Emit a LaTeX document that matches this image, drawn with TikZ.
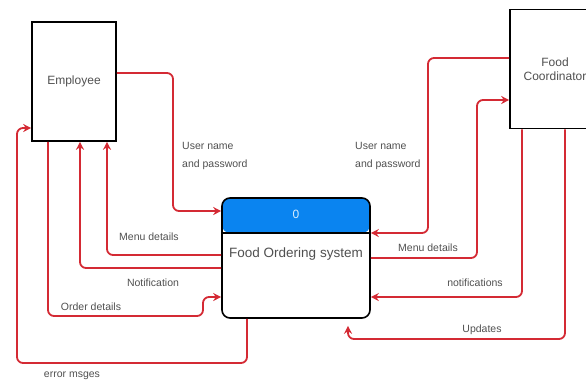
\documentclass[tikz,border=0pt]{standalone}
\usepackage{fontspec}
\setmainfont{Liberation Sans}
\usepackage{tikz}
\usetikzlibrary{
  arrows.meta,
  positioning,
  calc
}
\definecolor{dfdRed}{HTML}{D42A34}
\definecolor{dfdBlue}{HTML}{0A84F0}
\definecolor{dfdText}{HTML}{505050}
\tikzset{
  entity/.style={
    draw, line width=1.6pt, minimum width=84pt, minimum height=119pt,
    font=\fontsize{12}{14}\selectfont, text=dfdText, align=center, inner sep=0pt
  },
  procbox/.style={
    draw, line width=1.6pt, rounded corners=8pt, minimum width=148pt, minimum height=120pt,
    fill=white,
    path picture={
      \fill[dfdBlue] (path picture bounding box.north west) rectangle
        ([yshift=-35pt]path picture bounding box.north east);
      \draw[line width=1.6pt] ([yshift=-35pt]path picture bounding box.north west) --
        ([yshift=-35pt]path picture bounding box.north east);
    }
  },
  procid/.style={font=\fontsize{12}{14}\selectfont, text=white!85!dfdBlue},
  proctext/.style={font=\fontsize{13.5}{16}\selectfont, text=dfdText},
  flow/.style={-{Stealth[length=8pt,width=8pt]}, line width=1.8pt, dfdRed, rounded corners=6pt},
  tag/.style={font=\fontsize{10.5}{18}\selectfont, text=dfdText, align=left, inner sep=1pt}
}
\begin{document}
\begin{tikzpicture}[x=1pt,y=-1pt]
  \useasboundingbox (0,0) rectangle (586,381);
  % entities and process
  \node[entity] (emp) at (74,81.5) {Employee};
  \node[entity, minimum width=90pt] (coord) at (555,69) {Food\\Coordinator};
  \node[procbox] (proc) at (296,258) {};
  \node[procid] (pid) at ([yshift=-17.5pt]proc.north) {0};
  \node[proctext] (pname) at ([yshift=-57pt]proc.north) {Food Ordering system};
  % employee side
  \draw[flow] ([yshift=8.5pt]emp.east) -| (173,211) -- ([yshift=47pt]proc.west);
  \draw[flow] ([yshift=3pt]proc.west) -| ([xshift=33pt]emp.south);
  \draw[flow] ([yshift=-10pt]proc.west) -| ([xshift=6pt]emp.south);
  \draw[flow] ([xshift=-26pt]emp.south) |- (203,316) |- ([yshift=-39pt]proc.west);
  \draw[flow] ([xshift=-49pt]proc.south) |- (17,363) |- ([yshift=-46.5pt]emp.west);
  % coordinator side
  \draw[flow] ([yshift=11pt]coord.west) -| (428,233) -- ([yshift=25pt]proc.east);
  \draw[flow] (proc.east) -| (477,100) -- ([yshift=-31pt]coord.west);
  \draw[flow] ([xshift=-33pt]coord.south) |- ([yshift=-39pt]proc.east);
  \coordinate (updEnd) at ([xshift=52pt,yshift=-7pt]proc.south);
  \draw[flow] ([xshift=10pt]coord.south) |- (348,339) -- (updEnd);
  % labels
  \node[tag, anchor=west] (lupL) at (181,156) {User name\\and password};
  \node[tag] (lmenuL) at (149,237) {Menu details};
  \node[tag] (lnotL) at (153,283) {Notification};
  \node[tag] (lordL) at (91,307) {Order details};
  \node[tag] (lerr) at (72,376) {error msges};
  \node[tag, anchor=west] (lupR) at (354,156) {User name\\and password};
  \node[tag] (lmenuR) at (428,248) {Menu details};
  \node[tag] (lnotR) at (475,283) {notifications};
  \node[tag] (lupd) at (482,330) {Updates};
\end{tikzpicture}
\end{document}
